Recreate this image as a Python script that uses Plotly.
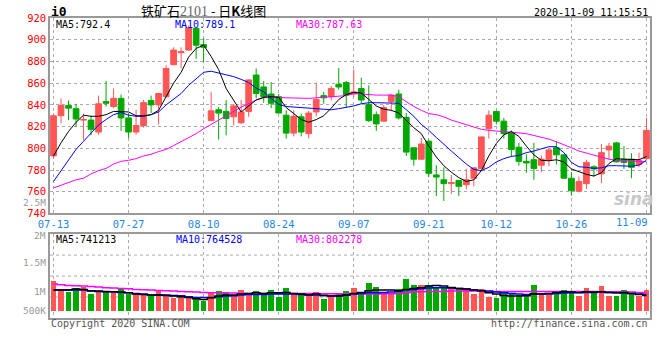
import plotly.graph_objects as go

# ---------------- data ----------------
trade_days = {
    "07": [13, 14, 15, 16, 17, 20, 21, 22, 23, 24, 27, 28, 29, 30, 31],
    "08": [3, 4, 5, 6, 7, 10, 11, 12, 13, 14, 17, 18, 19, 20, 21, 24, 25, 26, 27, 28, 31],
    "09": [1, 2, 3, 4, 7, 8, 9, 10, 11, 14, 15, 16, 17, 18, 21, 22, 23, 24, 25, 28, 29, 30],
    "10": [9, 12, 13, 14, 15, 16, 19, 20, 21, 22, 23, 26, 27, 28, 29, 30],
    "11": [2, 3, 4, 5, 6, 9],
}
dates = [f"2020-{m}-{d:02d}" for m, ds in trade_days.items() for d in ds]

open_ = [793, 830, 839.5, 836.5, 826, 826, 815, 843, 838.5, 846,
         828, 815, 821, 844, 840, 847.5, 877, 888, 890.5, 910.5,
         895.5, 825.5, 835.5, 834, 829, 823.5, 834, 867.5, 856.5, 850,
         847.5, 830.5, 814, 829, 813.5, 833.5, 848.5, 847.5, 859, 860.5,
         850, 855, 840.5, 831, 825, 843, 850, 828.5, 800.5, 790,
         806.5, 775.5, 771, 767.5, 770.5, 766.5, 772.5, 781.5, 818, 834,
         825, 814, 801, 788, 789.5, 784.5, 789.5, 800.5, 794, 772.5,
         760.5, 767.5, 783, 776.5, 798.5, 805, 790, 790, 785, 790.5]
high = [832, 846, 844, 841, 832, 830, 848.5, 862, 855, 849.5,
        832.5, 835.5, 844.5, 848.5, 851, 876.5, 893, 893, 913, 910.5,
        901.5, 852, 838, 844.5, 841, 844.5, 863.5, 873.5, 862, 861,
        850, 835, 835, 832, 834.5, 860.5, 852, 857.5, 874, 862,
        872.5, 865, 858, 834, 840, 850, 854, 832.5, 800.5, 809.5,
        808, 784.5, 782.5, 775.5, 770.5, 781, 782.5, 810.5, 835, 834,
        828, 816.5, 805, 794.5, 805, 793.5, 799.5, 806.5, 794, 778,
        774, 789.5, 784.5, 804, 805, 806, 802, 795.5, 796, 828]
low = [791, 823, 826, 820, 807.5, 812, 812.5, 838.5, 837, 816,
       809.5, 812.5, 819, 832.5, 822, 847, 876.5, 873.5, 890, 882.5,
       879.5, 825, 808, 812, 821, 822.5, 829, 846, 842, 837,
       832, 809, 811, 811, 809, 829.5, 841, 844, 854, 838,
       847.5, 841, 824, 816, 825, 834, 826.5, 793, 784, 789.5,
       773.5, 756, 751.5, 758, 756, 762.5, 765, 781, 809, 822,
       809, 792.5, 784, 777.5, 771, 778, 783.5, 785, 772, 756.5,
       759.5, 762.5, 774, 768, 789.5, 787, 781, 772.5, 782.5, 789.5]
close = [830, 839.5, 837, 827, 826.5, 817.5, 841, 841.5, 846, 828,
         815, 821, 842, 840, 850.5, 873.5, 890.5, 889, 911, 895,
         893, 834.5, 832.5, 827.5, 839, 833.5, 863, 850.5, 847.5, 841.5,
         832.5, 814, 829.5, 815, 832.5, 845, 846.5, 855, 856.5, 849,
         852, 844.5, 825.5, 822.5, 837.5, 849, 828, 796.5, 790, 804,
         777, 773.5, 767.5, 768.5, 765, 771, 782, 810.5, 830.5, 825,
         813.5, 799, 788, 786.5, 781.5, 790, 798.5, 794, 772.5, 761,
         769.5, 787, 781, 796, 802, 787.5, 787, 782.5, 789, 816.5]

ma5 = [793, 805, 815.5, 824, 830.5, 829.5, 829.5, 831, 834, 834,
       833.5, 830, 830, 831, 835, 847.5, 860, 870, 884, 892,
       895, 884.5, 872.5, 855, 844, 833.5, 839, 844.5, 847, 847.5,
       847, 837.5, 832, 826.5, 824, 826.5, 830, 837, 845, 849.5,
       851.5, 851, 845, 839, 836, 835, 832.5, 826, 819, 813.5,
       802, 792, 784, 778, 773, 769.5, 771, 779.5, 793, 804.5,
       812.5, 815.5, 811, 802, 794, 789, 788.5, 789.5, 787.5, 781,
       778.5, 776, 774.5, 777.5, 786, 790.5, 790, 789.5, 789.5, 792.4]
ma10 = [769.5, 779.5, 789.5, 799, 806.5, 814, 821.5, 826.5, 831, 833,
        830.5, 829.5, 829.5, 831, 833.5, 840, 845.5, 850.5, 858, 864,
        870, 871, 869.5, 868, 866, 863.5, 860.5, 855.5, 852, 846,
        840.5, 838.5, 838, 837, 836.5, 836, 835.5, 835.5, 836.5, 837.5,
        839, 841, 842, 842, 842, 842, 841.5, 835.5, 829.5, 822,
        816.5, 810, 803.5, 797.5, 791.5, 785.5, 780.5, 779.5, 782.5, 787.5,
        790.5, 792.5, 793.5, 796, 797.5, 799.5, 801.5, 801.5, 796, 787,
        783, 782.5, 781.5, 782, 784, 784, 784, 783.5, 784.5, 789.1]
ma30 = [763.5, 766, 768, 771, 772.5, 776.5, 779.5, 781.5, 785.5, 788,
        789, 790.5, 793, 794.5, 797, 799, 802.5, 806, 809.5, 813.5,
        818, 822, 826.5, 830, 834, 838, 841, 844.5, 846.5, 847.5,
        846.7, 846.5, 846, 846, 846, 846.5, 847, 847.5, 847.5, 848.5,
        850.5, 850, 849, 849, 849, 849, 847.5, 843, 838.5, 835,
        832, 831, 829, 826, 824, 822, 819.5, 817.5, 816.5, 816,
        815.8, 815.2, 814.2, 813.5, 812, 810.5, 808.5, 806, 803.5, 800.5,
        797.5, 795.5, 793.5, 791.5, 790, 789, 788.5, 788, 787.6, 787.63]

volume = [994000, 844000, 811000, 872000, 900000, 778000, 828000, 828000, 817000, 861000,
          778000, 778000, 778000, 744000, 828000, 761000, 717000, 722000, 733000, 722000,
          667000, 789000, 828000, 817000, 761000, 844000, 800000, 828000, 761000, 844000,
          733000, 872000, 778000, 761000, 761000, 817000, 694000, 744000, 800000, 833000,
          878000, 817000, 967000, 894000, 800000, 800000, 861000, 1028000, 928000, 928000,
          928000, 900000, 900000, 872000, 872000, 844000, 778000, 856000, 733000, 717000,
          800000, 789000, 761000, 744000, 928000, 761000, 761000, 822000, 844000, 817000,
          744000, 878000, 806000, 911000, 744000, 744000, 844000, 789000, 744000, 844000]
vol_ma5 = [844000, 844000, 844000, 861000, 856000, 828000, 828000, 822000, 817000, 811000,
           800000, 778000, 772000, 761000, 761000, 756000, 744000, 733000, 722000, 700000,
           689000, 717000, 744000, 761000, 761000, 778000, 789000, 800000, 789000, 800000,
           800000, 806000, 789000, 778000, 761000, 778000, 756000, 744000, 744000, 761000,
           789000, 806000, 833000, 844000, 844000, 844000, 833000, 856000, 872000, 883000,
           911000, 922000, 911000, 889000, 872000, 861000, 844000, 833000, 800000, 778000,
           756000, 744000, 744000, 750000, 778000, 778000, 789000, 806000, 817000, 811000,
           806000, 817000, 811000, 817000, 806000, 800000, 806000, 789000, 772000, 755000]
vol_ma10 = [844000, 844000, 844000, 844000, 844000, 833000, 822000, 817000, 817000, 806000,
            800000, 789000, 778000, 761000, 761000, 761000, 756000, 750000, 733000, 722000,
            722000, 722000, 733000, 744000, 750000, 761000, 772000, 772000, 772000, 778000,
            778000, 778000, 778000, 772000, 767000, 761000, 756000, 750000, 750000, 761000,
            778000, 789000, 800000, 800000, 806000, 811000, 828000, 844000, 856000, 867000,
            878000, 883000, 883000, 878000, 872000, 861000, 844000, 839000, 828000, 811000,
            800000, 789000, 778000, 772000, 778000, 778000, 778000, 789000, 794000, 800000,
            800000, 806000, 806000, 811000, 806000, 800000, 794000, 789000, 778000, 768000]
vol_ma30 = [944000, 933000, 922000, 917000, 911000, 906000, 894000, 883000, 878000, 872000,
            867000, 856000, 850000, 844000, 839000, 833000, 828000, 822000, 817000, 811000,
            806000, 800000, 800000, 794000, 794000, 789000, 789000, 789000, 789000, 789000,
            789000, 789000, 789000, 789000, 789000, 789000, 783000, 783000, 778000, 778000,
            778000, 778000, 778000, 778000, 783000, 783000, 789000, 800000, 817000, 817000,
            822000, 822000, 822000, 828000, 828000, 828000, 828000, 828000, 822000, 822000,
            822000, 822000, 822000, 822000, 822000, 822000, 822000, 822000, 822000, 822000,
            822000, 822000, 822000, 822000, 817000, 817000, 811000, 811000, 806000, 802000]

tick_dates = ["2020-07-13", "2020-07-27", "2020-08-10", "2020-08-24", "2020-09-07",
              "2020-09-21", "2020-10-12", "2020-10-26", "2020-11-09"]
tick_labels = ["07-13", "07-27", "08-10", "08-24", "09-07", "09-21", "10-12", "10-26", "11-09"]
price_ticks = [740, 760, 780, 800, 820, 840, 860, 880, 900, 920]
vol_labels = ["2.5M", "2M", "1.5M", "1M", "500K"]
legend_price = ["MA5:792.4", "MA10:789.1", "MA30:787.63"]
legend_vol = ["MA5:741213", "MA10:764528", "MA30:802278"]

# ---------------- style ----------------
RED = "#FF5555"
GREEN = "#00A800"
BLUE = "#0000FF"
MAGENTA = "#FF00FF"
XBLUE = "#1E88E5"
GRID = "#AAAAAA"
BORDER = "#999999"
MONO = "DejaVu Sans Mono"
VOL_FLOOR = 500000

W, H = 660, 360
ML, MR, MT, MB = 50, 10, 17.5, 42
PW, PH = W - ML - MR, H - MT - MB


def px(x):
    return (x - ML) / PW


def py(y):
    return (H - MB - y) / PH


main_dom = [py(213.3), 1.0]
vol_dom = [0.0, py(234)]

fig = go.Figure()

fig.add_trace(go.Candlestick(
    x=dates, open=open_, high=high, low=low, close=close,
    increasing=dict(line=dict(color=RED, width=1), fillcolor=RED),
    decreasing=dict(line=dict(color=GREEN, width=1), fillcolor=GREEN),
    whiskerwidth=0, xaxis="x", yaxis="y", hoverinfo="skip", showlegend=False))

for vals, col in [(ma30, MAGENTA), (ma10, BLUE), (ma5, "#000000")]:
    fig.add_trace(go.Scatter(x=dates, y=vals, mode="lines", line=dict(color=col, width=1),
                             xaxis="x", yaxis="y", hoverinfo="skip", showlegend=False))

bar_colors = [RED if c >= o else GREEN for o, c in zip(open_, close)]
fig.add_trace(go.Bar(x=dates, y=[v - VOL_FLOOR for v in volume], base=VOL_FLOOR,
                     marker=dict(color=bar_colors, line=dict(width=0)), width=0.76,
                     xaxis="x2", yaxis="y2", hoverinfo="skip", showlegend=False))
for vals, col in [(vol_ma30, MAGENTA), (vol_ma10, BLUE), (vol_ma5, "#000000")]:
    fig.add_trace(go.Scatter(x=dates, y=vals, mode="lines", line=dict(color=col, width=1.5, shape="hvh"),
                             xaxis="x2", yaxis="y2", hoverinfo="skip", showlegend=False))

axis_common = dict(showline=True, mirror=True, linecolor=BORDER, linewidth=1.5,
                   zeroline=False, ticks="", fixedrange=True, automargin=False)

fig.update_layout(
    template="none",
    width=W, height=H, margin=dict(l=ML, r=MR, t=MT, b=MB, autoexpand=False),
    paper_bgcolor="white", plot_bgcolor="white", showlegend=False,
    boxgap=0.24, boxgroupgap=0, bargap=0,
    xaxis=dict(type="category", range=[-0.47, len(dates) - 0.53], domain=[0, 1], anchor="y",
               tickvals=tick_dates, ticktext=tick_labels[:-1] + [""],
               tickfont=dict(family=MONO, size=10.5, color=XBLUE),
               showgrid=True, gridcolor=GRID, griddash="dot", gridwidth=1,
               rangeslider=dict(visible=False), **axis_common),
    yaxis=dict(domain=main_dom, range=[740, 920], tickvals=price_ticks, anchor="x",
               tickfont=dict(family=MONO, size=10.5, color="#FF0000"),
               showgrid=True, gridcolor=GRID, griddash="dot", gridwidth=1, **axis_common),
    xaxis2=dict(type="category", matches="x", anchor="y2", domain=[0, 1],
                tickvals=tick_dates, showticklabels=False,
                showgrid=True, gridcolor=GRID, griddash="dot", gridwidth=1, **axis_common),
    yaxis2=dict(domain=vol_dom, range=[378300, 1778600], anchor="x2",
                showticklabels=False, showgrid=False, **axis_common),
)

# horizontal grid lines of the volume panel
for f in [0.25, 0.5, 0.75]:
    fig.add_shape(type="line", xref="x2 domain", yref="y2 domain", x0=0, x1=1, y0=f, y1=f,
                  line=dict(color=GRID, width=1, dash="dot"), layer="below")

ann = []


def text(s, x, y, size=10, color="#000000", anchor="left", family=MONO, **kw):
    ann.append(dict(text=s, x=px(x), y=py(y), xref="paper", yref="paper",
                    xanchor=anchor, yanchor="middle", showarrow=False, borderpad=0,
                    font=dict(family=family, size=size, color=color), **kw))


text("<b>i0</b>", 50, 10.5, size=13)
text("铁矿石<span style='color:#666666;font-family:Liberation Serif;font-size:14px'>2101</span> - 日<b>K</b>线图",
     140, 10, size=13, family="Noto Sans CJK SC")
text("2020-11-09 11:15:51", 649, 12, anchor="right")
text(tick_labels[-1], 649, 222, size=10.5, color=XBLUE, anchor="right")
text(legend_price[0], 55, 24.5)
text(legend_price[1], 174, 24.5, color=BLUE)
text(legend_price[2], 295, 24.5, color=MAGENTA)
text(legend_vol[0], 55, 239)
text(legend_vol[1], 175, 239, color=BLUE)
text(legend_vol[2], 295, 239, color=MAGENTA)
for lab, y in zip(vol_labels, [202, 235, 262, 291, 310]):
    text(lab, 47, y, size=9.5, color="#999999", anchor="right")
text("Copyright 2020 SINA.COM", 50, 324, color="#555555")
text("http://finance.sina.com.cn", 649, 324, color="#555555", anchor="right")
text("<b><i>sina</i></b>", 634, 199, size=17, color="#C8C8C8", anchor="center", family="DejaVu Sans")

fig.update_layout(annotations=ann)
fig.write_html("out.html", config={"displayModeBar": False},
               post_script="document.body.style.margin='0px';")
